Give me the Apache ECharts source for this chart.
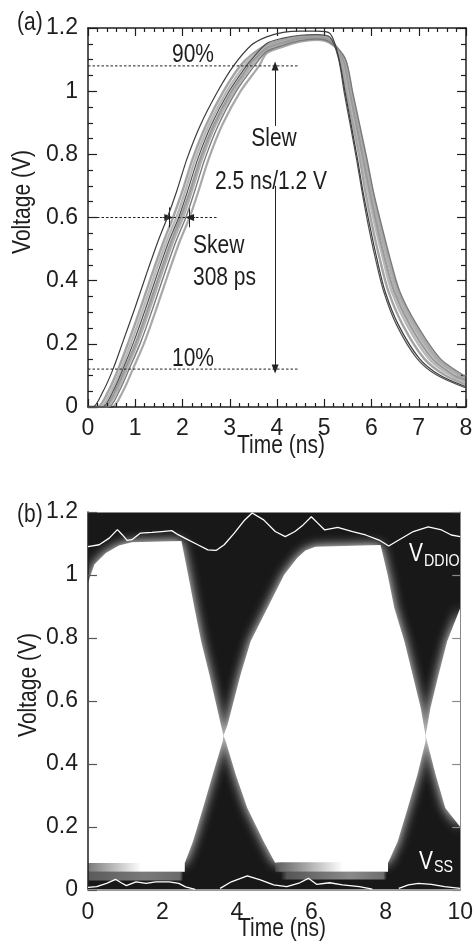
<!DOCTYPE html>
<html><head><meta charset="utf-8">
<script src="https://cdn.jsdelivr.net/npm/echarts@6/dist/echarts.min.js"></script>
<style>html,body{margin:0;padding:0;background:#fff}#c{width:476px;height:947px}</style>
</head><body><div id="c"></div>
<script>
const FONT = "'Liberation Sans',Arial,sans-serif";
const FS = 23;      // axis tick labels
const TFS = 25;     // free texts (drawn condensed)
const SX = 0.84;

// ---------- Panel (a): rise/fall traces ----------
const riseLevels = [0, 0.05, 0.12, 0.207, 0.312, 0.418, 0.524, 0.60, 0.68, 0.788, 0.893, 0.998, 1.08];
const topTimes = [3.46, 3.78, 4.13, 4.49, 4.84, 5.12];
const fallLevels = [1.104, 0.998, 0.893, 0.788, 0.682, 0.577, 0.472, 0.365, 0.260, 0.154, 0.101];
const endTime = 8;

const riseTimes = [
  [0.10, 0.32, 0.53, 0.74, 0.99, 1.23, 1.48, 1.68, 1.87, 2.10, 2.38, 2.74, 3.08],
  [0.20, 0.43, 0.64, 0.86, 1.11, 1.35, 1.60, 1.80, 1.99, 2.22, 2.50, 2.86, 3.22],
  [0.26, 0.49, 0.70, 0.92, 1.17, 1.41, 1.66, 1.87, 2.05, 2.28, 2.56, 2.93, 3.30],
  [0.30, 0.53, 0.74, 0.97, 1.22, 1.46, 1.71, 1.92, 2.10, 2.33, 2.61, 2.98, 3.35],
  [0.34, 0.57, 0.78, 1.02, 1.27, 1.51, 1.76, 1.96, 2.15, 2.38, 2.66, 3.03, 3.40],
  [0.38, 0.61, 0.82, 1.06, 1.31, 1.55, 1.80, 2.01, 2.19, 2.42, 2.70, 3.08, 3.46],
  [0.43, 0.66, 0.87, 1.12, 1.37, 1.61, 1.86, 2.07, 2.25, 2.48, 2.76, 3.13, 3.52],
  [0.50, 0.74, 0.95, 1.20, 1.45, 1.69, 1.94, 2.15, 2.33, 2.56, 2.84, 3.22, 3.62]
];
const topValues = [
  [1.146, 1.172, 1.186, 1.190, 1.190, 1.183],
  [1.115, 1.146, 1.163, 1.173, 1.176, 1.167],
  [1.105, 1.141, 1.159, 1.170, 1.173, 1.164],
  [1.100, 1.151, 1.168, 1.177, 1.179, 1.171],
  [1.092, 1.136, 1.154, 1.167, 1.170, 1.161],
  [null, 1.130, 1.150, 1.164, 1.168, 1.158],
  [null, 1.125, 1.145, 1.160, 1.165, 1.155],
  [null, 1.120, 1.141, 1.157, 1.162, 1.152]
];
const fallTimes = [
  [5.31, 5.44, 5.57, 5.70, 5.82, 5.96, 6.11, 6.29, 6.57, 7.01, 7.44],
  [5.34, 5.47, 5.61, 5.75, 5.87, 6.01, 6.17, 6.36, 6.66, 7.11, 7.55],
  [5.37, 5.51, 5.65, 5.79, 5.92, 6.07, 6.24, 6.43, 6.75, 7.21, 7.66],
  [5.30, 5.42, 5.55, 5.68, 5.80, 5.93, 6.08, 6.26, 6.53, 6.96, 7.38],
  [5.39, 5.54, 5.68, 5.82, 5.96, 6.11, 6.28, 6.48, 6.81, 7.28, 7.74],
  [5.41, 5.56, 5.71, 5.86, 5.99, 6.15, 6.33, 6.53, 6.87, 7.35, 7.83],
  [5.44, 5.60, 5.75, 5.90, 6.04, 6.21, 6.39, 6.60, 6.96, 7.45, 7.94],
  [5.43, 5.58, 5.73, 5.88, 6.02, 6.18, 6.36, 6.57, 6.92, 7.40, 7.88]
];
const endValues = [0.064, 0.071, 0.079, 0.060, 0.085, 0.090, 0.098, 0.094];
const traceColors = ['#3c3c3c', '#a4a4a4', '#b8b8b8', '#505050', '#9a9a9a', '#b0b0b0', '#7a7a7a', '#a8a8a8'];
const traceWidths = [1.2, 2.4, 2.4, 1.2, 2.2, 2.4, 1.4, 2.2];
const traceZ = [9, 3, 2, 8, 4, 3, 6, 4];

// annotation levels (a)
const level90 = 1.08, level10 = 0.12, levelMid = 0.6;
const refLineEnd = 4.44, midLineEnd = 2.75;
const slewTime = 3.96;
const skewLeft = 1.71, skewRight = 2.15;

// ---------- Panel (b): eye diagram ----------
const eyeLeft = [[0,0.083],[0,0.975],[0.17,1.033],[0.48,1.07],[0.83,1.094],[1.18,1.104],[2.51,1.108],[2.69,1.001],[2.86,0.895],[3.04,0.79],[3.26,0.684],[3.57,0.525],[3.64,0.49],[3.62,0.472],[3.35,0.366],[3.09,0.26],[2.82,0.154],[2.60,0.086]];
const eyeMid = [[3.64,0.49],[3.75,0.525],[4.10,0.684],[4.37,0.79],[4.82,0.895],[5.27,1.001],[5.62,1.054],[5.84,1.078],[6.11,1.09],[7.86,1.095],[8.05,1.001],[8.23,0.895],[8.50,0.79],[8.72,0.684],[8.94,0.578],[9.07,0.49],[9.07,0.472],[8.85,0.366],[8.59,0.26],[8.32,0.154],[8.06,0.086],[5.03,0.086],[4.72,0.154],[4.28,0.26],[3.97,0.366],[3.70,0.472]];
const eyeRight = [[9.07,0.49],[9.20,0.578],[9.42,0.684],[9.65,0.79],[10,0.895],[10,0.2],[9.60,0.26],[9.34,0.366]];
const eyes = [eyeLeft, eyeMid, eyeRight];

// gray bands under the eyes [t0, t1, v0, v1]
const bottomBandsUpper = [[0, 2.60, 0.058, 0.086], [5.03, 8.06, 0.058, 0.088]];
const bottomBandsLower = [[0, 2.55, 0.030, 0.058], [5.20, 8.02, 0.033, 0.058]];

const vddio = [[0,1.09],[0.30,1.096],[0.57,1.117],[0.79,1.144],[0.92,1.128],[1.05,1.110],[1.18,1.112],[1.41,1.133],[1.72,1.135],[1.98,1.138],[2.25,1.141],[2.42,1.128],[2.60,1.117],[2.95,1.096],[3.22,1.080],[3.44,1.078],[3.66,1.096],[3.93,1.133],[4.19,1.172],[4.41,1.197],[4.72,1.175],[5.03,1.138],[5.30,1.122],[5.56,1.138],[5.78,1.159],[6.00,1.185],[6.18,1.164],[6.36,1.143],[6.71,1.151],[7.11,1.138],[7.46,1.127],[7.82,1.111],[8.08,1.092],[8.35,1.111],[8.74,1.138],[9.14,1.153],[9.50,1.143],[9.76,1.127],[10.0,1.122]];
const vss = [[0,0.0085],[0.23,0.011],[0.50,0.021],[0.74,0.034],[0.89,0.023],[1.03,0.014],[1.29,0.026],[1.56,0.021],[1.82,0.026],[2.18,0.026],[2.44,0.021],[2.62,0.010],[2.88,0.002],null,[3.55,0.005],[3.85,0.026],[4.03,0.034],[4.28,0.045],[4.63,0.032],[4.99,0.016],[5.34,0.011],[5.69,0.023],[5.92,0.037],[6.14,0.018],[6.49,0.023],[6.84,0.016],[7.29,0.011],[7.64,0.003],null,[8.35,0.005],[8.61,0.016],[8.88,0.021],[9.23,0.018],[9.58,0.011],[10,0.005]];

// ---------- build ----------
const chart = echarts.init(document.getElementById('c'), null, {renderer: 'canvas'});

function traceData(i) {
  const d = [[0, 0]];
  riseTimes[i].forEach((t, k) => d.push([t, riseLevels[k]]));
  topTimes.forEach((t, k) => { if (topValues[i][k] != null) d.push([t, topValues[i][k]]); });
  fallTimes[i].forEach((t, k) => d.push([t, fallLevels[k]]));
  d.push([endTime, endValues[i]]);
  return d;
}

const series = [];
riseTimes.forEach((_, i) => {
  series.push({
    type: 'line', xAxisIndex: 0, yAxisIndex: 0, data: traceData(i), showSymbol: false, symbol: 'none',
    smooth: 0.3, z: traceZ[i], silent: true,
    lineStyle: {color: traceColors[i], width: traceWidths[i]}
  });
});

const dotted = {color: '#222', width: 1, type: [2.5, 2]};
[[[0, level90], [refLineEnd, level90]], [[0, level10], [refLineEnd, level10]], [[0, levelMid], [midLineEnd, levelMid]]].forEach(seg => {
  series.push({type: 'line', xAxisIndex: 0, yAxisIndex: 0, data: seg, symbol: 'none', silent: true, z: 10, lineStyle: dotted});
});

series.push({
  type: 'line', xAxisIndex: 0, yAxisIndex: 0, data: [], z: 11,
  markLine: {
    silent: true, animation: false, symbol: ['none', 'triangle'], symbolSize: [7, 9],
    label: {show: false},
    lineStyle: {color: '#222', width: 1, type: 'solid'},
    data: [
      [{coord: [slewTime, 0.89]}, {coord: [slewTime, level90]}],
      [{coord: [slewTime, 0.70]}, {coord: [slewTime, level10]}],
      [{coord: [skewLeft - 0.12, levelMid]}, {coord: [skewLeft, levelMid]}],
      [{coord: [skewRight + 0.12, levelMid]}, {coord: [skewRight, levelMid]}],
      [{coord: [skewLeft, 0.569], symbol: 'none'}, {coord: [skewLeft, 0.632], symbol: 'none'}],
      [{coord: [skewRight, 0.569], symbol: 'none'}, {coord: [skewRight, 0.632], symbol: 'none'}]
    ]
  }
});

// panel (b)
series.push({
  type: 'custom', xAxisIndex: 2, yAxisIndex: 2, clip: true, z: 2, silent: true,
  data: eyes.map((e, i) => [i, 0]),
  renderItem(params, api) {
    const pts = eyes[params.dataIndex].map(p => api.coord(p));
    return {type: 'polygon', shape: {points: pts}, style: {fill: '#ffffff', shadowBlur: 12, shadowColor: '#ffffff'}};
  }
});
function bandSeries(bands, fillFn, z) {
  return {
    type: 'custom', xAxisIndex: 2, yAxisIndex: 2, clip: true, z: z, silent: true,
    data: bands.map((b) => [b[0], b[2]]),
    renderItem(params, api) {
      const b = bands[params.dataIndex];
      const p0 = api.coord([b[0], b[3]]), p1 = api.coord([b[1], b[2]]);
      return {type: 'rect', shape: {x: p0[0], y: p0[1], width: p1[0] - p0[0], height: p1[1] - p0[1]},
        style: {fill: fillFn(params.dataIndex)}};
    }
  };
}
const G = echarts.graphic.LinearGradient;
series.push(bandSeries(bottomBandsLower, i => new G(0, 0, 1, 0, i === 0
  ? [{offset: 0, color: '#5a5a5a'}, {offset: 0.6, color: '#7a7a7a'}, {offset: 0.97, color: '#6a6a6a'}, {offset: 1, color: 'rgba(80,80,80,0.3)'}]
  : [{offset: 0, color: 'rgba(70,70,70,0.3)'}, {offset: 0.05, color: '#555555'}, {offset: 0.65, color: '#8a8a8a'}, {offset: 0.97, color: '#6e6e6e'}, {offset: 1, color: 'rgba(80,80,80,0.3)'}]), 3));
series.push(bandSeries(bottomBandsUpper, i => new G(0, 0, 1, 0, i === 0
  ? [{offset: 0, color: '#7a7a7a'}, {offset: 0.55, color: '#ffffff'}, {offset: 1, color: '#ffffff'}]
  : [{offset: 0, color: 'rgba(100,100,100,0.5)'}, {offset: 0.05, color: '#6a6a6a'}, {offset: 0.6, color: '#ffffff'}, {offset: 1, color: '#ffffff'}]), 4));

series.push({type: 'line', xAxisIndex: 2, yAxisIndex: 2, data: vddio, symbol: 'none', silent: true, z: 6,
  lineStyle: {color: '#ffffff', width: 1.3}});
const vssSegs = [[]];
vss.forEach(p => { if (p === null) vssSegs.push([]); else vssSegs[vssSegs.length - 1].push(p); });
vssSegs.forEach(seg => series.push({type: 'line', xAxisIndex: 2, yAxisIndex: 2, data: seg, symbol: 'none', silent: true, z: 6,
  lineStyle: {color: '#ffffff', width: 1.3}}));

const lbl = {fontFamily: FONT, fontSize: FS, color: '#1e1e1e'};
const axA = (pos, showLabel) => ({
  type: 'value', gridIndex: 0, position: pos, min: 0, max: 8, interval: 1, z: 5,
  axisLine: {show: true, onZero: false, lineStyle: {color: '#1e1e1e', width: 1.5}},
  axisTick: {show: true, inside: true, length: 8, lineStyle: {color: '#1e1e1e', width: 1.2}},
  minorTick: {show: true, splitNumber: 5, length: 4, lineStyle: {color: '#1e1e1e', width: 1.2}},
  axisLabel: {show: showLabel, margin: 10, ...lbl},
  splitLine: {show: false}
});
const ayA = (pos, showLabel) => ({
  type: 'value', gridIndex: 0, position: pos, min: 0, max: 1.2, interval: 0.2, z: 5,
  axisLine: {show: true, onZero: false, lineStyle: {color: '#1e1e1e', width: 1.5}},
  axisTick: {show: true, inside: true, length: 9, lineStyle: {color: '#1e1e1e', width: 1.2}},
  minorTick: {show: true, splitNumber: 4, length: 5, lineStyle: {color: '#1e1e1e', width: 1.2}},
  axisLabel: {show: showLabel, margin: 10, ...lbl},
  splitLine: {show: false}
});

function txt(s, x, y, opts) {
  opts = opts || {};
  return {type: 'text', x: x, y: y, z: opts.z || 50, rotation: opts.rot || 0, scaleX: opts.sx || SX, scaleY: 1,
    style: {text: s, font: (opts.fs || TFS) + 'px ' + FONT, fill: opts.fill || '#1e1e1e',
      align: opts.align || 'center', verticalAlign: 'middle'}};
}

const option = {
  animation: false,
  backgroundColor: '#ffffff',
  grid: [
    {left: 88, top: 28, width: 378, height: 379, containLabel: false},
    {left: 88, top: 512, width: 377, height: 378, show: true, backgroundColor: '#181818', borderWidth: 0}
  ],
  xAxis: [
    axA('bottom', true),
    axA('top', false),
    {type: 'value', gridIndex: 1, position: 'bottom', min: 0, max: 10, interval: 2, z: 5,
      axisLine: {show: true, onZero: false, lineStyle: {color: '#9a9a9a', width: 2}},
      axisTick: {show: false}, axisLabel: {margin: 11, ...lbl}, splitLine: {show: false}},
    {type: 'value', gridIndex: 1, position: 'top', min: 0, max: 10, interval: 2, z: 5,
      axisLine: {show: true, onZero: false, lineStyle: {color: '#8a8a8a', width: 1}},
      axisTick: {show: false}, axisLabel: {show: false}, splitLine: {show: false}}
  ],
  yAxis: [
    ayA('left', true),
    ayA('right', false),
    {type: 'value', gridIndex: 1, position: 'left', min: 0, max: 1.2, interval: 0.2, z: 5,
      axisLine: {show: true, onZero: false, lineStyle: {color: '#1e1e1e', width: 1.5}},
      axisTick: {show: true, inside: true, length: 9, lineStyle: {color: '#555', width: 1.2}},
      axisLabel: {margin: 10, ...lbl}, splitLine: {show: false}},
    {type: 'value', gridIndex: 1, position: 'right', min: 0, max: 1.2, interval: 0.2, z: 5,
      axisLine: {show: true, onZero: false, lineStyle: {color: '#8a8a8a', width: 1}},
      axisTick: {show: true, inside: true, length: 8, lineStyle: {color: '#8a8a8a', width: 1.2}},
      axisLabel: {show: false}, splitLine: {show: false}}
  ],
  series: series,
  graphic: [
    txt('(a)', 17, 23, {align: 'left'}),
    txt('(b)', 17, 515, {align: 'left'}),
    txt('Voltage (V)', 23, 202, {rot: Math.PI / 2}),
    txt('Voltage (V)', 29, 685, {rot: Math.PI / 2}),
    txt('Time (ns)', 281, 446),
    txt('Time (ns)', 282, 929),
    txt('90%', 193, 55),
    txt('10%', 193, 359),
    txt('Slew', 274, 139),
    txt('2.5 ns/1.2 V', 271, 182),
    txt('Skew', 193, 246, {align: 'left'}),
    txt('308 ps', 193, 278, {align: 'left'}),
    txt('V', 409, 554, {align: 'left', fill: '#ffffff', z: 100}),
    txt('DDIO', 424, 561, {align: 'left', fill: '#ffffff', z: 100, fs: 17}),
    txt('V', 419, 862, {align: 'left', fill: '#ffffff', z: 100}),
    txt('SS', 434, 867, {align: 'left', fill: '#ffffff', z: 100, fs: 17})
  ]
};
chart.setOption(option);
</script>
</body></html>
